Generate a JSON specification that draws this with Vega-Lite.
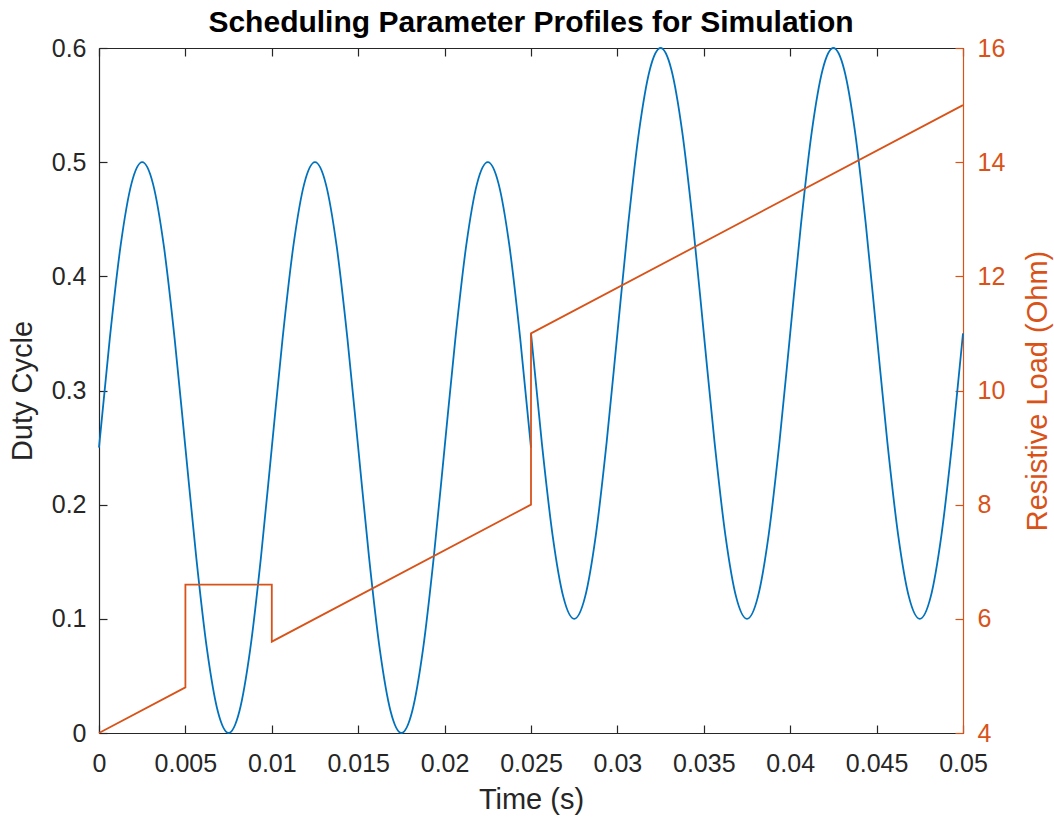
{
  "$schema": "https://vega.github.io/schema/vega-lite/v6.json",
  "width": 864,
  "height": 685,
  "autosize": {"type": "none"},
  "padding": {"left": 99, "top": 48, "right": 91, "bottom": 87},
  "background": "white",
  "title": {
    "text": "Scheduling Parameter Profiles for Simulation",
    "font": "Liberation Sans",
    "fontSize": 30,
    "fontWeight": "bold",
    "color": "#000000",
    "anchor": "middle",
    "frame": "group",
    "offset": 9,
    "dy": 11
  },
  "config": {
    "view": {"stroke": null},
    "axis": {
      "grid": false,
      "labelFont": "Liberation Sans",
      "titleFont": "Liberation Sans",
      "labelFontSize": 25,
      "titleFontSize": 29,
      "titleFontWeight": "normal",
      "labelColor": "#262626",
      "titleColor": "#262626",
      "domainColor": "#262626",
      "tickColor": "#262626",
      "domainWidth": 1.2,
      "tickWidth": 1.2,
      "tickSize": -8,
      "labelFlush": false,
      "labelOverlap": false
    }
  },
  "datasets": {
    "duty": [
      {"t": 0, "d": 0.25, "seg": 1},
      {"t": 0.000625, "d": 0.3457, "seg": 1},
      {"t": 0.00125, "d": 0.4268, "seg": 1},
      {"t": 0.001875, "d": 0.481, "seg": 1},
      {"t": 0.0025, "d": 0.5, "seg": 1},
      {"t": 0.003125, "d": 0.481, "seg": 1},
      {"t": 0.00375, "d": 0.4268, "seg": 1},
      {"t": 0.004375, "d": 0.3457, "seg": 1},
      {"t": 0.005, "d": 0.25, "seg": 1},
      {"t": 0.005625, "d": 0.1543, "seg": 1},
      {"t": 0.00625, "d": 0.0732, "seg": 1},
      {"t": 0.006875, "d": 0.019, "seg": 1},
      {"t": 0.0075, "d": 0, "seg": 1},
      {"t": 0.008125, "d": 0.019, "seg": 1},
      {"t": 0.00875, "d": 0.0732, "seg": 1},
      {"t": 0.009375, "d": 0.1543, "seg": 1},
      {"t": 0.01, "d": 0.25, "seg": 1},
      {"t": 0.010625, "d": 0.3457, "seg": 1},
      {"t": 0.01125, "d": 0.4268, "seg": 1},
      {"t": 0.011875, "d": 0.481, "seg": 1},
      {"t": 0.0125, "d": 0.5, "seg": 1},
      {"t": 0.013125, "d": 0.481, "seg": 1},
      {"t": 0.01375, "d": 0.4268, "seg": 1},
      {"t": 0.014375, "d": 0.3457, "seg": 1},
      {"t": 0.015, "d": 0.25, "seg": 1},
      {"t": 0.015625, "d": 0.1543, "seg": 1},
      {"t": 0.01625, "d": 0.0732, "seg": 1},
      {"t": 0.016875, "d": 0.019, "seg": 1},
      {"t": 0.0175, "d": 0, "seg": 1},
      {"t": 0.018125, "d": 0.019, "seg": 1},
      {"t": 0.01875, "d": 0.0732, "seg": 1},
      {"t": 0.019375, "d": 0.1543, "seg": 1},
      {"t": 0.02, "d": 0.25, "seg": 1},
      {"t": 0.020625, "d": 0.3457, "seg": 1},
      {"t": 0.02125, "d": 0.4268, "seg": 1},
      {"t": 0.021875, "d": 0.481, "seg": 1},
      {"t": 0.0225, "d": 0.5, "seg": 1},
      {"t": 0.023125, "d": 0.481, "seg": 1},
      {"t": 0.02375, "d": 0.4268, "seg": 1},
      {"t": 0.024375, "d": 0.3457, "seg": 1},
      {"t": 0.025, "d": 0.25, "seg": 1},
      {"t": 0.025, "d": 0.35, "seg": 2},
      {"t": 0.025625, "d": 0.2543, "seg": 2},
      {"t": 0.02625, "d": 0.1732, "seg": 2},
      {"t": 0.026875, "d": 0.119, "seg": 2},
      {"t": 0.0275, "d": 0.1, "seg": 2},
      {"t": 0.028125, "d": 0.119, "seg": 2},
      {"t": 0.02875, "d": 0.1732, "seg": 2},
      {"t": 0.029375, "d": 0.2543, "seg": 2},
      {"t": 0.03, "d": 0.35, "seg": 2},
      {"t": 0.030625, "d": 0.4457, "seg": 2},
      {"t": 0.03125, "d": 0.5268, "seg": 2},
      {"t": 0.031875, "d": 0.581, "seg": 2},
      {"t": 0.0325, "d": 0.6, "seg": 2},
      {"t": 0.033125, "d": 0.581, "seg": 2},
      {"t": 0.03375, "d": 0.5268, "seg": 2},
      {"t": 0.034375, "d": 0.4457, "seg": 2},
      {"t": 0.035, "d": 0.35, "seg": 2},
      {"t": 0.035625, "d": 0.2543, "seg": 2},
      {"t": 0.03625, "d": 0.1732, "seg": 2},
      {"t": 0.036875, "d": 0.119, "seg": 2},
      {"t": 0.0375, "d": 0.1, "seg": 2},
      {"t": 0.038125, "d": 0.119, "seg": 2},
      {"t": 0.03875, "d": 0.1732, "seg": 2},
      {"t": 0.039375, "d": 0.2543, "seg": 2},
      {"t": 0.04, "d": 0.35, "seg": 2},
      {"t": 0.040625, "d": 0.4457, "seg": 2},
      {"t": 0.04125, "d": 0.5268, "seg": 2},
      {"t": 0.041875, "d": 0.581, "seg": 2},
      {"t": 0.0425, "d": 0.6, "seg": 2},
      {"t": 0.043125, "d": 0.581, "seg": 2},
      {"t": 0.04375, "d": 0.5268, "seg": 2},
      {"t": 0.044375, "d": 0.4457, "seg": 2},
      {"t": 0.045, "d": 0.35, "seg": 2},
      {"t": 0.045625, "d": 0.2543, "seg": 2},
      {"t": 0.04625, "d": 0.1732, "seg": 2},
      {"t": 0.046875, "d": 0.119, "seg": 2},
      {"t": 0.0475, "d": 0.1, "seg": 2},
      {"t": 0.048125, "d": 0.119, "seg": 2},
      {"t": 0.04875, "d": 0.1732, "seg": 2},
      {"t": 0.049375, "d": 0.2543, "seg": 2},
      {"t": 0.05, "d": 0.35, "seg": 2}
    ],
    "load": [
      {"i": 1, "t": 0, "r": 4},
      {"i": 2, "t": 0.005, "r": 4.8},
      {"i": 3, "t": 0.005, "r": 6.6},
      {"i": 4, "t": 0.01, "r": 6.6},
      {"i": 5, "t": 0.01, "r": 5.6},
      {"i": 6, "t": 0.025, "r": 8},
      {"i": 7, "t": 0.025, "r": 11},
      {"i": 8, "t": 0.05, "r": 15}
    ]
  },
  "layer": [
    {
      "data": {"name": "duty"},
      "mark": {"type": "line", "color": "#0072BD", "strokeWidth": 1.8, "interpolate": "monotone"},
      "encoding": {
        "x": {
          "field": "t",
          "type": "quantitative",
          "scale": {"domain": [0, 0.05], "nice": false, "zero": false},
          "axis": {
            "orient": "bottom",
            "title": "Time (s)",
            "values": [0, 0.005, 0.01, 0.015, 0.02, 0.025, 0.03, 0.035, 0.04, 0.045, 0.05],
            "format": "~g",
            "labelPadding": 26,
            "titlePadding": 9
          }
        },
        "y": {
          "field": "d",
          "type": "quantitative",
          "scale": {"domain": [0, 0.6], "nice": false},
          "axis": {
            "orient": "left",
            "title": "Duty Cycle",
            "values": [0, 0.1, 0.2, 0.3, 0.4, 0.5, 0.6],
            "format": "~g",
            "labelPadding": 21,
            "titlePadding": 14
          }
        },
        "detail": {"field": "seg"}
      }
    },
    {
      "data": {"name": "load"},
      "mark": {"type": "line", "color": "#D95319", "strokeWidth": 1.8},
      "encoding": {
        "x": {
          "field": "t",
          "type": "quantitative",
          "scale": {"domain": [0, 0.05], "nice": false, "zero": false},
          "axis": {
            "orient": "top",
            "title": null,
            "labels": false,
            "values": [0, 0.005, 0.01, 0.015, 0.02, 0.025, 0.03, 0.035, 0.04, 0.045, 0.05]
          }
        },
        "y": {
          "field": "r",
          "type": "quantitative",
          "scale": {"domain": [4, 16], "nice": false, "zero": false},
          "axis": {
            "orient": "right",
            "title": "Resistive Load (Ohm)",
            "values": [4, 6, 8, 10, 12, 14, 16],
            "labelPadding": 22,
            "titlePadding": 19,
            "titleAngle": 270,
            "titleBaseline": "top",
            "labelColor": "#D95319",
            "titleColor": "#D95319",
            "domainColor": "#D95319",
            "tickColor": "#D95319"
          }
        },
        "order": {"field": "i", "type": "quantitative"}
      }
    }
  ],
  "resolve": {"scale": {"y": "independent"}, "axis": {"x": "independent", "y": "independent"}}
}
